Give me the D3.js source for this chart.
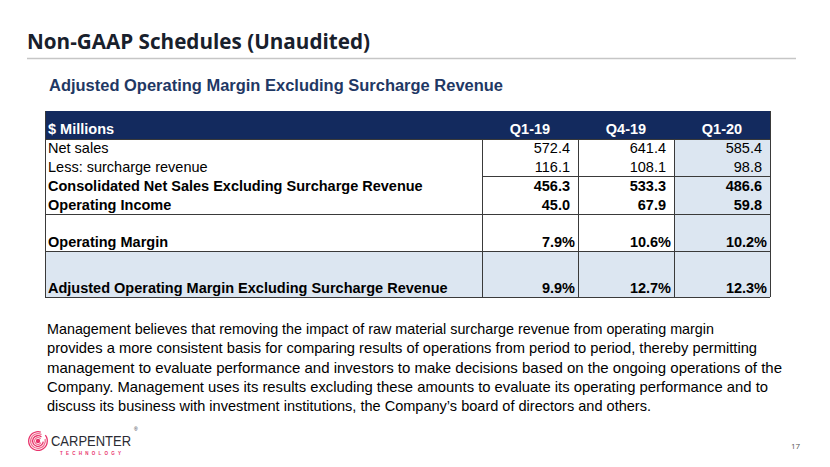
<!DOCTYPE html>
<html><head><meta charset="utf-8">
<script src="https://cdn.jsdelivr.net/npm/d3@7"></script>
<style>body{margin:0;background:#fff}svg{display:block}</style>
</head><body>
<svg id="c" width="830" height="467"></svg>
<script>
const title = "Non-GAAP Schedules (Unaudited)";
const subtitle = "Adjusted Operating Margin Excluding Surcharge Revenue";
const headerLabel = "$ Millions";
const periods = ["Q1-19", "Q4-19", "Q1-20"];
const rowLabels = ["Net sales", "Less: surcharge revenue", "Consolidated Net Sales Excluding Surcharge Revenue", "Operating Income", "Operating Margin", "Adjusted Operating Margin Excluding Surcharge Revenue"];
const rowBold = [false, false, true, true, true, true];
const rowIsPercent = [false, false, false, false, true, true];
const q1_19 = [572.4, 116.1, 456.3, 45.0, 7.9, 9.9];
const q4_19 = [641.4, 108.1, 533.3, 67.9, 10.6, 12.7];
const q1_20 = [585.4, 98.8, 486.6, 59.8, 10.2, 12.3];
const seriesValues = [q1_19, q4_19, q1_20];
const noteLines = [
  "Management believes that removing the impact of raw material surcharge revenue from operating margin",
  "provides a more consistent basis for comparing results of operations from period to period, thereby permitting",
  "management to evaluate performance and investors to make decisions based on the ongoing operations of the",
  "Company. Management uses its results excluding these amounts to evaluate its operating performance and to",
  "discuss its business with investment institutions, the Company\u2019s board of directors and others."
];
const pageNumber = "17";

// layout
const rowUnits = [1, 1, 1, 1, 2, 2.4];
const noteWidths = [667, 710, 735, 721, 604];
const navy = "#132a5e", lightBlue = "#dce6f1", border = "#3a3a3a";
const svg = d3.select("#c");
const tableLeft = 45, tableRight = 770, headTop = 111, bodyTop = 139, bodyBottom = 297;
const tfs = 14.5;

// title
svg.append("text").attr("x", 27).attr("y", 49).text(title)
  .attr("font-family", "'Open Sans','Noto Sans',sans-serif").attr("font-weight", 700)
  .attr("font-size", 22).attr("fill", "#18202c").attr("textLength", 343).attr("lengthAdjust", "spacingAndGlyphs");
svg.append("line").attr("x1", 27).attr("x2", 796).attr("y1", 58.5).attr("y2", 58.5)
  .attr("stroke", "#c6c6c6").attr("stroke-width", 1.5);
svg.append("text").attr("x", 49).attr("y", 91).text(subtitle)
  .attr("font-family", "'Liberation Sans',Arial,sans-serif").attr("font-weight", 700)
  .attr("font-size", 16).attr("fill", "#1f3864").attr("textLength", 454).attr("lengthAdjust", "spacingAndGlyphs");

// scales
const x = d3.scaleBand().domain(periods).range([482, tableRight]);
const cum = [0]; rowUnits.forEach((u, i) => cum.push(cum[i] + u));
const y = d3.scaleLinear().domain([0, cum[cum.length - 1]]).range([bodyTop, bodyBottom]);
const rowTop = i => y(cum[i]), rowBot = i => y(cum[i + 1]);

// backgrounds
svg.append("rect").attr("x", tableLeft).attr("y", headTop).attr("width", tableRight - tableLeft).attr("height", bodyTop - headTop).attr("fill", navy);
svg.append("rect").attr("x", x("Q1-20")).attr("y", bodyTop).attr("width", x.bandwidth()).attr("height", rowTop(5) - bodyTop).attr("fill", lightBlue);
svg.append("rect").attr("x", tableLeft).attr("y", rowTop(5)).attr("width", tableRight - tableLeft).attr("height", rowBot(5) - rowTop(5)).attr("fill", lightBlue);

// header text
const font = "'Liberation Sans',Arial,sans-serif";
svg.append("text").attr("x", 48).attr("y", 134).text(headerLabel)
  .attr("font-family", font).attr("font-weight", 700).attr("font-size", tfs).attr("fill", "#fff");
svg.selectAll("text.ph").data(periods).join("text").attr("class", "ph")
  .attr("x", d => x(d) + x.bandwidth() / 2).attr("y", 134).attr("text-anchor", "middle").text(d => d)
  .attr("font-family", font).attr("font-weight", 700).attr("font-size", tfs).attr("fill", "#fff");

// row labels
svg.selectAll("text.rl").data(rowLabels).join("text").attr("class", "rl")
  .attr("x", 48).attr("y", (d, i) => rowBot(i) - 4.5).text(d => d)
  .attr("font-family", font).attr("font-weight", (d, i) => rowBold[i] ? 700 : 400)
  .attr("font-size", tfs).attr("fill", "#000");

// values
periods.forEach((p, pi) => {
  svg.selectAll("text.v" + pi).data(seriesValues[pi]).join("text").attr("class", "v" + pi)
    .attr("x", (d, i) => x(p) + x.bandwidth() - (rowIsPercent[i] ? 3 : 8))
    .attr("y", (d, i) => rowBot(i) - 4.5).attr("text-anchor", "end")
    .text((d, i) => rowIsPercent[i] ? d.toFixed(1) + "%" : d.toFixed(1))
    .attr("font-family", font).attr("font-weight", (d, i) => rowBold[i] ? 700 : 400)
    .attr("font-size", tfs).attr("fill", "#000");
});

// grid lines
const g = svg.append("g").attr("stroke", border).attr("stroke-width", 1).attr("shape-rendering", "crispEdges");
[bodyTop, rowTop(4), rowTop(5), bodyBottom].forEach(v => g.append("line").attr("x1", tableLeft).attr("x2", tableRight).attr("y1", v).attr("y2", v));
g.append("line").attr("x1", x("Q1-19")).attr("x2", tableRight).attr("y1", rowTop(2)).attr("y2", rowTop(2));
[tableLeft, tableRight].forEach(v => g.append("line").attr("x1", v).attr("x2", v).attr("y1", headTop).attr("y2", bodyBottom));
periods.forEach(p => g.append("line").attr("x1", x(p)).attr("x2", x(p)).attr("y1", bodyTop).attr("y2", bodyBottom));

// note paragraph
svg.selectAll("text.note").data(noteLines).join("text").attr("class", "note")
  .attr("x", 47).attr("y", (d, i) => 334 + i * 19.3).text(d => d)
  .attr("font-family", "'Liberation Sans Narrow','Liberation Sans',Arial,sans-serif")
  .attr("font-size", 14.5).attr("fill", "#000")
  .attr("textLength", (d, i) => noteWidths[i]).attr("lengthAdjust", "spacingAndGlyphs");

// logo
const lg = svg.append("g").attr("transform", "translate(38,441)");
[10, 8, 6, 4].forEach((r, i) => {
  lg.append("path").attr("d", d3.arc()({innerRadius: r - 1.3, outerRadius: r, startAngle: 0.9 + i * 0.4, endAngle: 2 * Math.PI + 0.3 + i * 0.2}))
    .attr("fill", i % 2 ? "#f06d8f" : "#e8336b");
});
lg.append("circle").attr("r", 2.2).attr("fill", "#e8336b");
svg.append("text").attr("x", 51).attr("y", 446).text("CARPENTER")
  .attr("font-family", font).attr("font-size", 15).attr("fill", "#2b2b33")
  .attr("textLength", 80).attr("lengthAdjust", "spacingAndGlyphs");
svg.append("text").attr("x", 134).attr("y", 431).text("\u00AE")
  .attr("font-family", font).attr("font-size", 5).attr("fill", "#2b2b33");
svg.append("text").attr("x", 60).attr("y", 455).text("TECHNOLOGY")
  .attr("font-family", font).attr("font-weight", 700).attr("font-size", 4.5).attr("fill", "#e8336b")
  .attr("textLength", 61).attr("lengthAdjust", "spacing");

svg.append("text").attr("x", 791).attr("y", 449).text(pageNumber)
  .attr("font-family", "'Open Sans',sans-serif").attr("font-size", 8).attr("fill", "#555");
</script>
</body></html>
